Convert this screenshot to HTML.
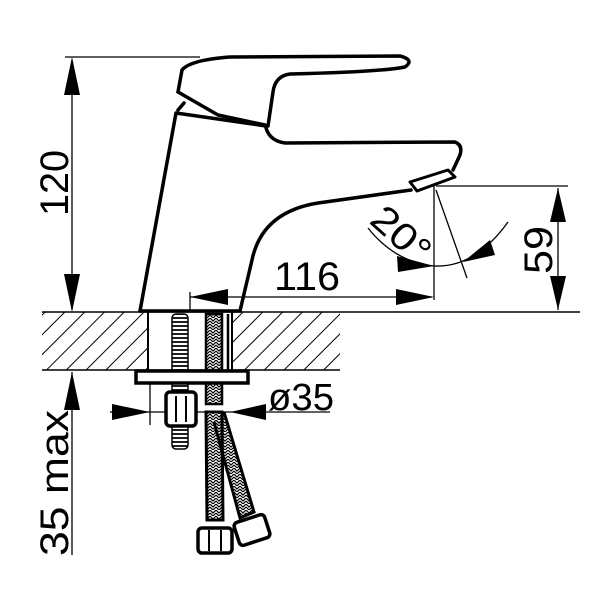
<!DOCTYPE html>
<html><head><style>html,body{margin:0;padding:0;background:#fff;}svg{display:block}</style></head>
<body>
<svg width="600" height="600" viewBox="0 0 600 600" xmlns="http://www.w3.org/2000/svg">
<defs>
<pattern id="h" patternUnits="userSpaceOnUse" width="14" height="14" patternTransform="rotate(45)">
<line x1="0" y1="0" x2="0" y2="14" stroke="#000" stroke-width="2"/>
</pattern>
<pattern id="br" patternUnits="userSpaceOnUse" width="6" height="6">
<path d="M0 0 L3 3 L6 0 M0 3 L3 6 L6 3" stroke="#000" stroke-width="1.2" fill="none"/>
</pattern>
<pattern id="th" patternUnits="userSpaceOnUse" width="20" height="4">
<line x1="0" y1="2" x2="20" y2="2" stroke="#000" stroke-width="1.8"/>
</pattern>
</defs>
<g fill="none" stroke="#000">
<rect x="42" y="312" width="106" height="58" fill="url(#h)" stroke="none"/>
<rect x="232" y="312" width="108" height="58" fill="url(#h)" stroke="none"/>
<line x1="42" y1="312" x2="580" y2="312" stroke-width="1.5"/>
<line x1="42" y1="370" x2="340" y2="370" stroke-width="1.5"/>
<line x1="148" y1="312" x2="148" y2="370" stroke-width="2"/>
<line x1="232" y1="312" x2="232" y2="370" stroke-width="2"/>
<g stroke-width="3.5" stroke-linejoin="round" stroke-linecap="round">
<path d="M140 311 L176 113 L266 126"/>
<path d="M178 92 L182 70 Q190 60 230 57 L400 56 Q415 60 405 67 Q380 72 290 74 Q275 76 273 92 L268 126"/>
<path d="M178 92 L218 115 L265 125"/>
<path d="M184 103 L178 110"/>
<path d="M266 128 Q270 141 285 143 L455 142 Q463 145 460 155 L453 170"/>
<path d="M411 190 L318 203 Q262 212 252 260 L240 311"/>
<path d="M410 182 L448 170 L455 177 L417 191 Z" stroke-width="3"/>
<line x1="140" y1="311" x2="240" y2="311"/>
</g>
<g stroke-width="1.3">
<line x1="65" y1="57" x2="200" y2="57"/>
<line x1="72" y1="60" x2="72" y2="310"/>
<line x1="190" y1="292" x2="190" y2="310"/>
<line x1="190" y1="297" x2="432" y2="297"/>
<line x1="434" y1="186" x2="434" y2="300"/>
<line x1="436" y1="186" x2="568" y2="186"/>
<line x1="558" y1="188" x2="558" y2="310"/>
<line x1="436" y1="190" x2="467" y2="278"/>
<path d="M368 228 Q395 262 434 266 Q475 268 508 222"/>
<line x1="72" y1="372" x2="72" y2="555"/>
<line x1="110" y1="412" x2="330" y2="412"/>
<line x1="150" y1="380" x2="150" y2="425"/>
</g>
</g>
<g fill="#000">
<polygon points="72,57 64,95 80,95"/>
<polygon points="72,312 64,274 80,274"/>
<polygon points="190,297 228,289 228,305"/>
<polygon points="434,297 396,289 396,305"/>
<polygon points="558,188 550,222 566,222"/>
<polygon points="558,310 550,276 566,276"/>
<polygon points="434,266 397,256 398,272"/>
<polygon points="463,262 490,240 495,255"/>
<polygon points="72,372 64,410 80,410"/>
<polygon points="150,412 112,404 112,420"/>
<polygon points="230,412 266,404 266,420"/>
</g>
<g stroke="#000" fill="none">
<rect x="172" y="314" width="16" height="135" fill="url(#th)" stroke-width="1.5" rx="4"/>
<rect x="206" y="314" width="16" height="90" fill="url(#br)" stroke-width="2.5"/>
<line x1="228" y1="314" x2="228" y2="372" stroke-width="2.5"/>
<rect x="136" y="371" width="112" height="12" fill="#fff" stroke-width="3.5"/>
<rect x="166" y="392" width="30" height="34" rx="4" fill="#fff" stroke-width="3.5"/>
<line x1="176" y1="396" x2="176" y2="422" stroke-width="2"/>
<line x1="186" y1="396" x2="186" y2="422" stroke-width="2"/>
<path d="M206 412 L222 412 L223 520 L207 520 Z" fill="url(#br)" stroke-width="3"/>
<path d="M224 412 L254 512 L240 518 L214 422" fill="url(#br)" stroke-width="3"/>
<rect x="198" y="528" width="34" height="25" rx="4" fill="#fff" stroke-width="3.5"/>
<line x1="209" y1="530" x2="209" y2="551" stroke-width="2"/>
<line x1="221" y1="530" x2="221" y2="551" stroke-width="2"/>
<rect x="236" y="518" width="32" height="24" rx="4" fill="#fff" stroke-width="3.5" transform="rotate(-18 252 530)"/>
</g>
<g font-family="Liberation Sans, sans-serif" font-size="40" fill="#000">
<text x="274" y="290" textLength="66" lengthAdjust="spacingAndGlyphs">116</text>
<text x="268" y="410" font-size="38" textLength="66" lengthAdjust="spacingAndGlyphs">ø35</text>
<text transform="translate(68,216) rotate(-90)" textLength="66" lengthAdjust="spacingAndGlyphs">120</text>
<text transform="translate(552,274) rotate(-90)" textLength="48" lengthAdjust="spacingAndGlyphs">59</text>
<text transform="translate(68,556) rotate(-90)" textLength="146" lengthAdjust="spacingAndGlyphs">35 max</text>
<text transform="translate(368,222) rotate(42)" font-size="38" textLength="66" lengthAdjust="spacingAndGlyphs">20°</text>
</g>
</svg>
</body></html>
